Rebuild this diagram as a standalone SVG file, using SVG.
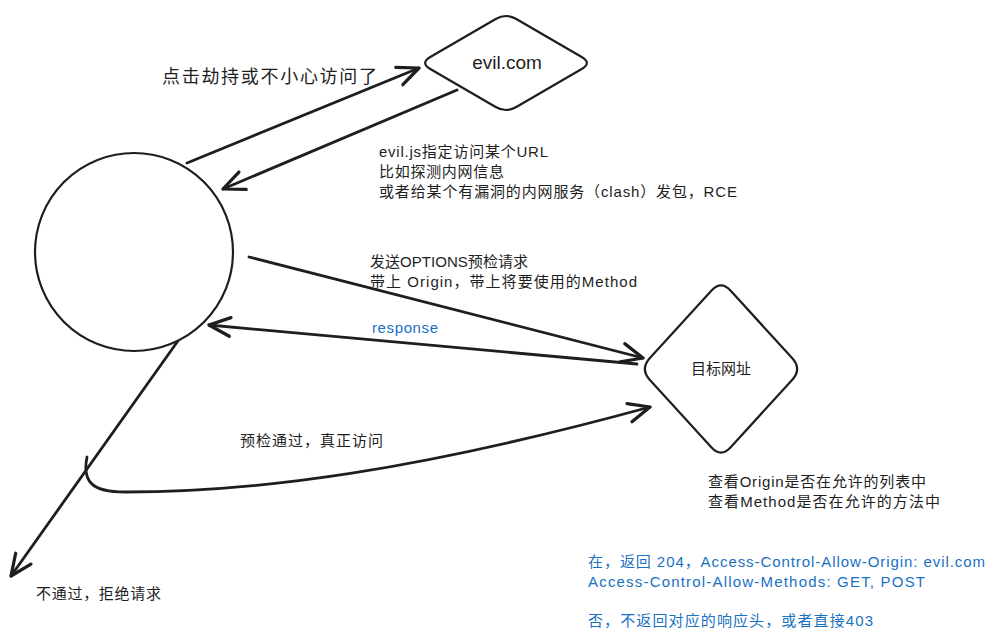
<svg xmlns="http://www.w3.org/2000/svg" width="996" height="641" viewBox="0 0 996 641">
<defs>
<style>
.shape{fill:#ffffff;stroke:#1e1e1e;stroke-width:2.2;}
.conn{fill:none;stroke:#1e1e1e;stroke-width:2.8;stroke-linecap:round;}
.t{font-family:"Liberation Sans","Noto Sans CJK SC",sans-serif;font-size:15px;fill:#1e1e1e;}
.b{fill:#1971c2;}
</style>
<marker id="ah" markerUnits="userSpaceOnUse" markerWidth="30" markerHeight="30" refX="0" refY="0" viewBox="-20 -12 24 24" orient="auto" overflow="visible">
<path d="M -17 -7.5 L 0 0 L -17 7.5" fill="none" stroke="#1e1e1e" stroke-width="2.6" stroke-linecap="round" stroke-linejoin="round"/>
</marker>
</defs>
<rect width="996" height="641" fill="#ffffff"/>
<g id="connectors">
<path class="conn" d="M 187 163 L 419 68" marker-end="url(#ah)"/>
<path class="conn" d="M 457 90 L 223 189" marker-end="url(#ah)"/>
<path class="conn" d="M 249 257 L 643 358" marker-end="url(#ah)"/>
<path class="conn" d="M 637 364 L 209 325" marker-end="url(#ah)"/>
<path class="conn" d="M 87 457 C 82 482, 92 492, 125 492 C 260 492, 420 470, 650 407" marker-end="url(#ah)"/>
<path class="conn" d="M 180 338 L 11 576" marker-end="url(#ah)"/>
</g>
<g id="client">
<circle class="shape" cx="134" cy="252" r="99"/>
</g>
<g id="evil">
<path class="shape" d="M 430.3 57 L 495.7 19 Q 506 13 516.3 19 L 581.7 57 Q 592 63 581.7 69 L 516.3 107 Q 506 113 495.7 107 L 430.3 69 Q 420 63 430.3 57 Z"/>
<text class="t" x="507" y="69" text-anchor="middle" style="font-size:19px">evil.com</text>
</g>
<g id="target">
<path class="shape" d="M 649.7 358.3 L 711.3 290.7 Q 721 280 730.7 290.7 L 792.3 358.3 Q 802 369 792.3 379.7 L 730.7 447.3 Q 721 458 711.3 447.3 L 649.7 379.7 Q 640 369 649.7 358.3 Z"/>
<text class="t" x="721" y="374" text-anchor="middle">目标网址</text>
</g>
<g id="labels">
<text class="t" x="162" y="83" style="font-size:18px" textLength="215" lengthAdjust="spacing">点击劫持或不小心访问了</text>
<text class="t" x="379" y="157" textLength="169" lengthAdjust="spacing">evil.js指定访问某个URL</text>
<text class="t" x="379" y="177" textLength="125" lengthAdjust="spacing">比如探测内网信息</text>
<text class="t" x="379" y="197" textLength="358" lengthAdjust="spacing">或者给某个有漏洞的内网服务（clash）发包，RCE</text>
<text class="t" x="370" y="267" textLength="158" lengthAdjust="spacing">发送OPTIONS预检请求</text>
<text class="t" x="370" y="287" textLength="267" lengthAdjust="spacing">带上 Origin，带上将要使用的Method</text>
<text class="t b" x="372" y="333" textLength="66" lengthAdjust="spacing">response</text>
<text class="t" x="240" y="446" textLength="143" lengthAdjust="spacing">预检通过，真正访问</text>
<text class="t" x="708" y="487" textLength="218" lengthAdjust="spacing">查看Origin是否在允许的列表中</text>
<text class="t" x="708" y="507" textLength="232" lengthAdjust="spacing">查看Method是否在允许的方法中</text>
<text class="t" x="36" y="599" textLength="125" lengthAdjust="spacing">不通过，拒绝请求</text>
<text class="t b" x="588" y="567" textLength="397" lengthAdjust="spacing">在，返回 204，Access-Control-Allow-Origin: evil.com</text>
<text class="t b" x="588" y="587" textLength="337" lengthAdjust="spacing">Access-Control-Allow-Methods: GET, POST</text>
<text class="t b" x="588" y="626" textLength="285" lengthAdjust="spacing">否，不返回对应的响应头，或者直接403</text>
</g>
</svg>
